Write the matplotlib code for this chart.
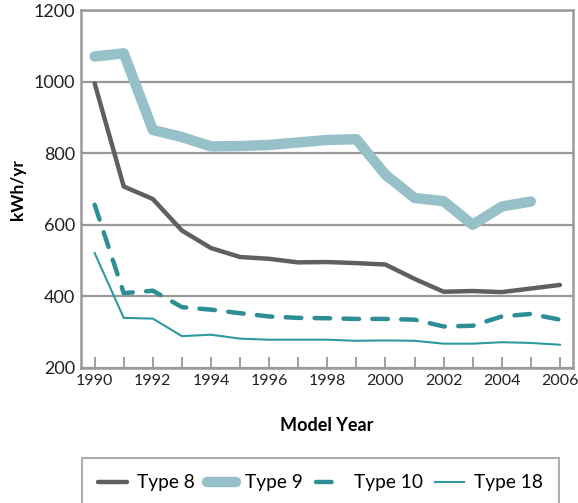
import matplotlib
matplotlib.use("Agg")
import matplotlib.pyplot as plt

plt.rcParams['font.family'] = ['Lato', 'DejaVu Sans']

years = list(range(1990, 2007))
type8 = [995, 707, 672, 584, 535, 510, 505, 495, 496, 493, 489, 449, 413, 415, 412, 422, 432]
type9 = [1070, 1079, 865, 845, 819, 820, 823, 830, 837, 839, 740, 675, 666, 600, 651, 665]
type10 = [656, 409, 416, 370, 363, 353, 344, 340, 339, 337, 337, 335, 316, 318, 344, 351, 335]
type18 = [521, 340, 338, 289, 293, 282, 279, 279, 279, 276, 277, 276, 268, 268, 272, 270, 265]

fig = plt.figure(figsize=(5.78, 5.03), dpi=100)
ax = fig.add_axes([81 / 578, 135 / 503, 492 / 578, 358 / 503])

ax.plot(years, type8, color="#5f5f60", lw=3.2, label="Type 8", solid_capstyle="round")
ax.plot(years[:len(type9)], type9, color="#96c1c8", lw=7.5, label="Type 9", solid_capstyle="round")
ax.plot(years, type10, color="#2e8e95", lw=3.2, ls=(0, (3.5, 3)), label="Type 10",
        dash_capstyle="round")
ax.plot(years, type18, color="#2e9aa0", lw=1.5, label="Type 18")

ax.set_xlim(1989.53, 2006.45)
ax.set_ylim(200, 1200)
ax.set_yticks(range(200, 1201, 200))
ax.set_xticks(years)
ax.set_xticklabels([str(y) if y % 2 == 0 else "" for y in years])
ax.tick_params(axis="x", direction="in", length=8, width=1.3, color="#999999",
               labelsize=11.5, pad=4, labelcolor="#222222")
ax.tick_params(axis="y", length=0, labelsize=13, pad=4, labelcolor="#222222")
ax.grid(axis="y", color="#999999", lw=1.6)
ax.set_axisbelow(True)
for s in ax.spines.values():
    s.set_color("#999999")
    s.set_linewidth(1.8)

ax.set_ylabel("kWh/yr", fontsize=12.5, fontweight="bold", labelpad=6)
ax.set_xlabel("Model Year", fontsize=13, fontweight="bold", labelpad=21)

leg = fig.legend(loc="upper left", bbox_to_anchor=(82 / 578, 45 / 503), borderaxespad=0,
                 ncol=4, fontsize=13.8, frameon=True, fancybox=False,
                 handlelength=1.5, handletextpad=0.5, columnspacing=0.65,
                 borderpad=0.85)
leg.get_frame().set_edgecolor("#999999")
leg.get_frame().set_linewidth(1.5)

fig.savefig("out.png", dpi=100)
